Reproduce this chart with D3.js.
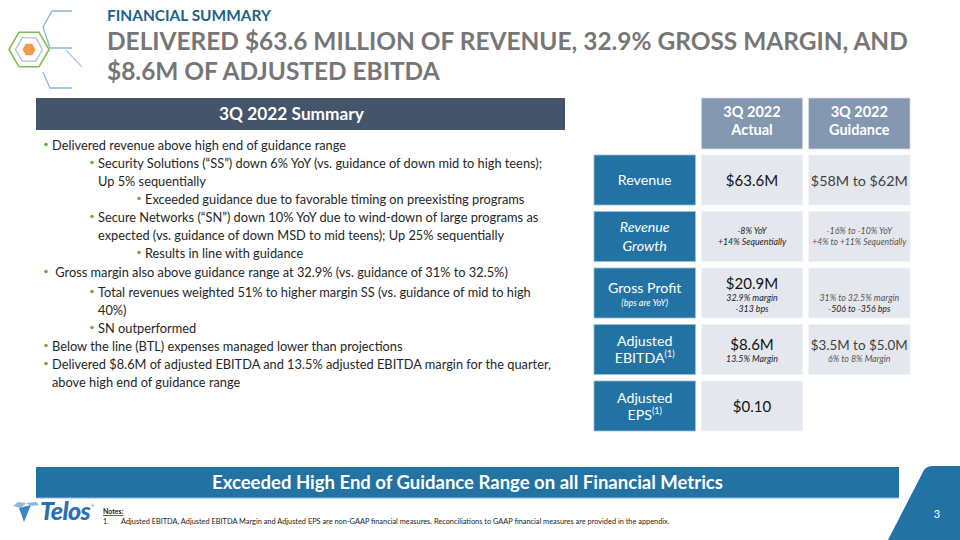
<!DOCTYPE html>
<html><head><meta charset="utf-8">
<script src="https://cdn.jsdelivr.net/npm/d3@7/dist/d3.min.js"></script>
<style>html,body{margin:0;padding:0;background:#fff;}svg{display:block;font-family:Lato,"Open Sans",sans-serif;}</style>
</head><body>
<svg id="c" width="960" height="540"></svg>
<script>
// ---- data ----
const kicker = "FINANCIAL SUMMARY";
const titleLines = ["DELIVERED $63.6 MILLION OF REVENUE, 32.9% GROSS MARGIN, AND", "$8.6M OF ADJUSTED EBITDA"];
const summaryTitle = "3Q 2022 Summary";
const bulletLevels = [0, 1, 2, 1, 2, 0, 1, 1, 0, 0];
const bulletTexts = [
  ["Delivered revenue above high end of guidance range"],
  ["Security Solutions (\u201CSS\u201D) down 6% YoY (vs. guidance of down mid to high teens);", "Up 5% sequentially"],
  ["Exceeded guidance due to favorable timing on preexisting programs"],
  ["Secure Networks (\u201CSN\u201D) down 10% YoY due to wind-down of large programs as", "expected (vs. guidance of down MSD to mid teens); Up 25% sequentially"],
  ["Results in line with guidance"],
  ["\u00A0Gross margin also above guidance range at 32.9% (vs. guidance of 31% to 32.5%)"],
  ["Total revenues weighted 51% to higher margin SS (vs. guidance of mid to high", "40%)"],
  ["SN outperformed"],
  ["Below the line (BTL) expenses managed lower than projections"],
  ["Delivered $8.6M of adjusted EBITDA and 13.5% adjusted EBITDA margin for the quarter,", "above high end of guidance range"]
];
const columns = ["3Q 2022 Actual", "3Q 2022 Guidance"];
const metrics = ["Revenue", "Revenue Growth", "Gross Profit", "Adjusted EBITDA", "Adjusted EPS"];
const metricNotes = ["", "", "(bps are YoY)", "", ""];
const actualMain = ["$63.6M", "", "$20.9M", "$8.6M", "$0.10"];
const actualSub = [[], ["-8% YoY", "+14% Sequentially"], ["32.9% margin", "-313 bps"], ["13.5% Margin"], []];
const guidanceMain = ["$58M to $62M", "", "", "$3.5M to $5.0M", null];
const guidanceSub = [[], ["-16% to -10% YoY", "+4% to +11% Sequentially"], ["31% to 32.5% margin", "-506 to -356 bps"], ["6% to 8% Margin"], []];
const banner = "Exceeded High End of Guidance Range on all Financial Metrics";
const noteText = "Adjusted EBITDA, Adjusted EBITDA Margin and Adjusted EPS are non-GAAP financial measures. Reconciliations to GAAP financial measures are provided in the appendix.";
const pageNumber = "3";

// ---- drawing ----
const svg = d3.select("#c");
function fit(sel, w){ const n=sel.node(); let fs=parseFloat(sel.attr("font-size")); const L=n.getComputedTextLength(); if(L>0){sel.attr("font-size",(fs*w/L).toFixed(2));} return sel; }
function fitMax(sel, w){ const L=sel.node().getComputedTextLength(); if(L>w) fit(sel,w); return sel; }

// logo hexagons
const logo = svg.append("g");
function hexPts(cx, cy, r){ return d3.range(6).map(i=>{const a=Math.PI/3*i; return [cx+r*Math.cos(a), cy+r*Math.sin(a)];}); }
const line = d3.line();
logo.append("path").attr("d", line([[72,11],[52,11],[43,27],[50,48],[72,48]])).attr("fill","none").attr("stroke","#8fb4dc").attr("stroke-width",1.3);
logo.append("path").attr("d", line([[66,50],[82,67]])).attr("fill","none").attr("stroke","#b9c6d3").attr("stroke-width",1.3);
logo.append("path").attr("d", line([[43,72],[50,88],[72,88]])).attr("fill","none").attr("stroke","#8fb4dc").attr("stroke-width",1.3);
logo.append("path").attr("d", line(hexPts(29,49.5,20)) + "Z").attr("fill","none").attr("stroke","#7cc04a").attr("stroke-width",1.6);
logo.append("path").attr("d", line(hexPts(29,49.5,13.5)) + "Z").attr("fill","none").attr("stroke","#b9c9d9").attr("stroke-width",1.5);
logo.append("path").attr("d", line(hexPts(29,49.5,6.5)) + "Z").attr("fill","#f09a4a");

svg.append("text").attr("x",107).attr("y",21).attr("font-size",15.5).attr("font-weight",700).attr("fill","#1f5f8b").text(kicker).call(s=>fit(s,164));
let titleFs = 27;
titleLines.forEach((t,i)=>{
  const s = svg.append("text").attr("x",107).attr("y",50+i*30).attr("font-size",titleFs).attr("font-weight",700).attr("fill","#767676").text(t);
  if(i===0){ fit(s,801); titleFs = s.attr("font-size"); }
});

// summary header
svg.append("rect").attr("x",36).attr("y",98).attr("width",529).attr("height",32).attr("fill","#44546a");
svg.append("text").attr("x",291.5).attr("y",120).attr("text-anchor","middle").attr("font-size",17).attr("font-weight",700).attr("fill","#fff").text(summaryTitle).call(s=>fit(s,145));

// bullets
const indentX = d3.scaleOrdinal().domain([0,1,2]).range([46,92,139]);
const lineYs = [145,163,181,199,217,235,253,272,292,310,328,346,364,382];
let li = 0;
const bg = svg.append("g").attr("font-size",12.8).attr("fill","#262626");
bulletTexts.forEach((lines,bi)=>{
  const lv = bulletLevels[bi];
  const x = indentX(lv);
  bg.append("circle").attr("cx",x).attr("cy",lineYs[li]-0.5).attr("r",1.8).attr("fill","#70ad47");
  lines.forEach((t,k)=>{
    bg.append("text").attr("x",x+6).attr("y",lineYs[li]+4.5).text(t);
    li++;
  });
});

// table
const x = d3.scaleBand().domain(["label", ...columns]).range([594,910]).paddingInner(0.055);
const y = d3.scaleBand().domain(metrics).range([155,431]).paddingInner(0.115);
const bw = x.bandwidth();
// header
columns.forEach(c=>{
  svg.append("rect").attr("x",x(c)).attr("y",98).attr("width",bw).attr("height",51).attr("fill","#8497b0").attr("stroke","#d6dde6").attr("stroke-width",0.8);
  const parts = c.split(" ");
  const t = svg.append("text").attr("x",x(c)+bw/2).attr("text-anchor","middle").attr("font-size",14.5).attr("font-weight",700).attr("fill","#fff");
  t.append("tspan").attr("x",x(c)+bw/2).attr("y",117).text(parts[0]+" "+parts[1]);
  t.append("tspan").attr("x",x(c)+bw/2).attr("y",135).text(parts.slice(2).join(" "));
});
// label cells
metrics.forEach((m,i)=>{
  const y0 = y(m), h = y.bandwidth(), cx = x("label")+bw/2;
  svg.append("rect").attr("x",x("label")).attr("y",y0).attr("width",bw).attr("height",h).attr("fill","#2273a4").attr("stroke","#9dbdd6").attr("stroke-width",0.8);
  const lab = svg.append("text").attr("text-anchor","middle").attr("font-size",14.2).attr("fill","#fff");
  if(m==="Revenue"){ lab.attr("x",cx).attr("y",y0+h/2+5).text(m); }
  else if(m==="Revenue Growth"){ lab.attr("font-style","italic"); lab.append("tspan").attr("x",cx).attr("y",y0+21).text("Revenue"); lab.append("tspan").attr("x",cx).attr("y",y0+40).text("Growth"); }
  else if(m==="Gross Profit"){ lab.attr("x",cx).attr("y",y0+25).text(m); svg.append("text").attr("x",cx).attr("y",y0+38).attr("text-anchor","middle").attr("font-size",9).attr("font-style","italic").attr("fill","#fff").text(metricNotes[i]); }
  else { const w=m.split(" "); lab.append("tspan").attr("x",cx).attr("y",y0+22).text(w[0]); lab.append("tspan").attr("x",cx).attr("y",y0+39).text(w[1]); lab.append("tspan").attr("font-size",9).attr("dy",-6).text("(1)"); }
});
// value cells (layout follows the row's actual column)
function drawCell(col, i, main, subs, mainColor, subColor){
  if(main===null) return;
  const m = metrics[i], y0 = y(m), h = y.bandwidth(), cx = x(col)+bw/2;
  svg.append("rect").attr("x",x(col)).attr("y",y0).attr("width",bw).attr("height",h).attr("fill","#e4e8ee").attr("stroke","#f0f2f5").attr("stroke-width",0.8);
  const hasMain = actualMain[i] !== "", n = actualSub[i].length;
  let mainY, subY0;
  if(hasMain && n===0){ mainY = y0+31; }
  else if(hasMain && n===2){ mainY = y0+21; subY0 = y0+33; }
  else if(hasMain && n===1){ mainY = y0+26; subY0 = y0+37.5; }
  else { subY0 = y0+23; }
  if(main) svg.append("text").attr("x",cx).attr("y",mainY).attr("text-anchor","middle").attr("font-size",15).attr("fill",mainColor).text(main).call(s=>fitMax(s,97));
  subs.forEach((s,k)=>{
    svg.append("text").attr("x",cx).attr("y",subY0+k*11).attr("text-anchor","middle").attr("font-size",8.8).attr("font-style","italic").attr("fill",typeof subColor==="function"?subColor(k):subColor).text(s).call(t=>fitMax(t,94));
  });
}
metrics.forEach((m,i)=>{
  drawCell(columns[0], i, actualMain[i], actualSub[i], "#111", "#222");
  drawCell(columns[1], i, guidanceMain[i], guidanceSub[i], "#404040", i===2 ? (k=> k===0?"#555":"#222") : "#555");
});

// banner
svg.append("rect").attr("x",36).attr("y",467).attr("width",863).attr("height",31).attr("fill","#2273a4");
svg.append("line").attr("x1",36).attr("x2",899).attr("y1",498).attr("y2",498).attr("stroke","#8fb8d8").attr("stroke-width",1);
svg.append("text").attr("x",467.5).attr("y",489).attr("text-anchor","middle").attr("font-size",18).attr("font-weight",700).attr("fill","#fff").text(banner).call(s=>fit(s,511));

// Telos logo
const tl = svg.append("g");
tl.append("path").attr("d","M13,506 L18,502 L26,503 L21,508 Z").attr("fill","#8ab8df");
tl.append("path").attr("d","M19,508 L31,505 L24,522 Z").attr("fill","#3d86c6");
tl.append("path").attr("d","M26,503 L36,502 L39,505 L31,506 Z").attr("fill","#8ab8df");
tl.append("text").attr("x",40).attr("y",520).attr("font-size",24).attr("font-weight",900).attr("font-style","italic").attr("fill","#2a6fb0").attr("letter-spacing",-0.6).text("Telos").call(s=>fit(s,50));
tl.append("text").attr("x",91).attr("y",507).attr("font-size",4).attr("fill","#2a6fb0").text("\u00AE");

// notes
svg.append("text").attr("x",103).attr("y",514).attr("font-size",7).attr("font-weight",700).attr("fill","#222").attr("text-decoration","underline").text("Notes:");
svg.append("text").attr("x",103).attr("y",524).attr("font-size",7).attr("fill","#222").text("1.");
svg.append("text").attr("x",121).attr("y",524).attr("font-size",7).attr("fill","#222").text(noteText).call(s=>fit(s,549));

// page number shape
svg.append("path").attr("d","M888,540 L924,470 Q927,466 933,466 L960,466 L960,540 Z").attr("fill","#2272a3");
svg.append("text").attr("x",937).attr("y",518).attr("text-anchor","middle").attr("font-size",11).attr("fill","#fff").text(pageNumber);
</script>
</body></html>
